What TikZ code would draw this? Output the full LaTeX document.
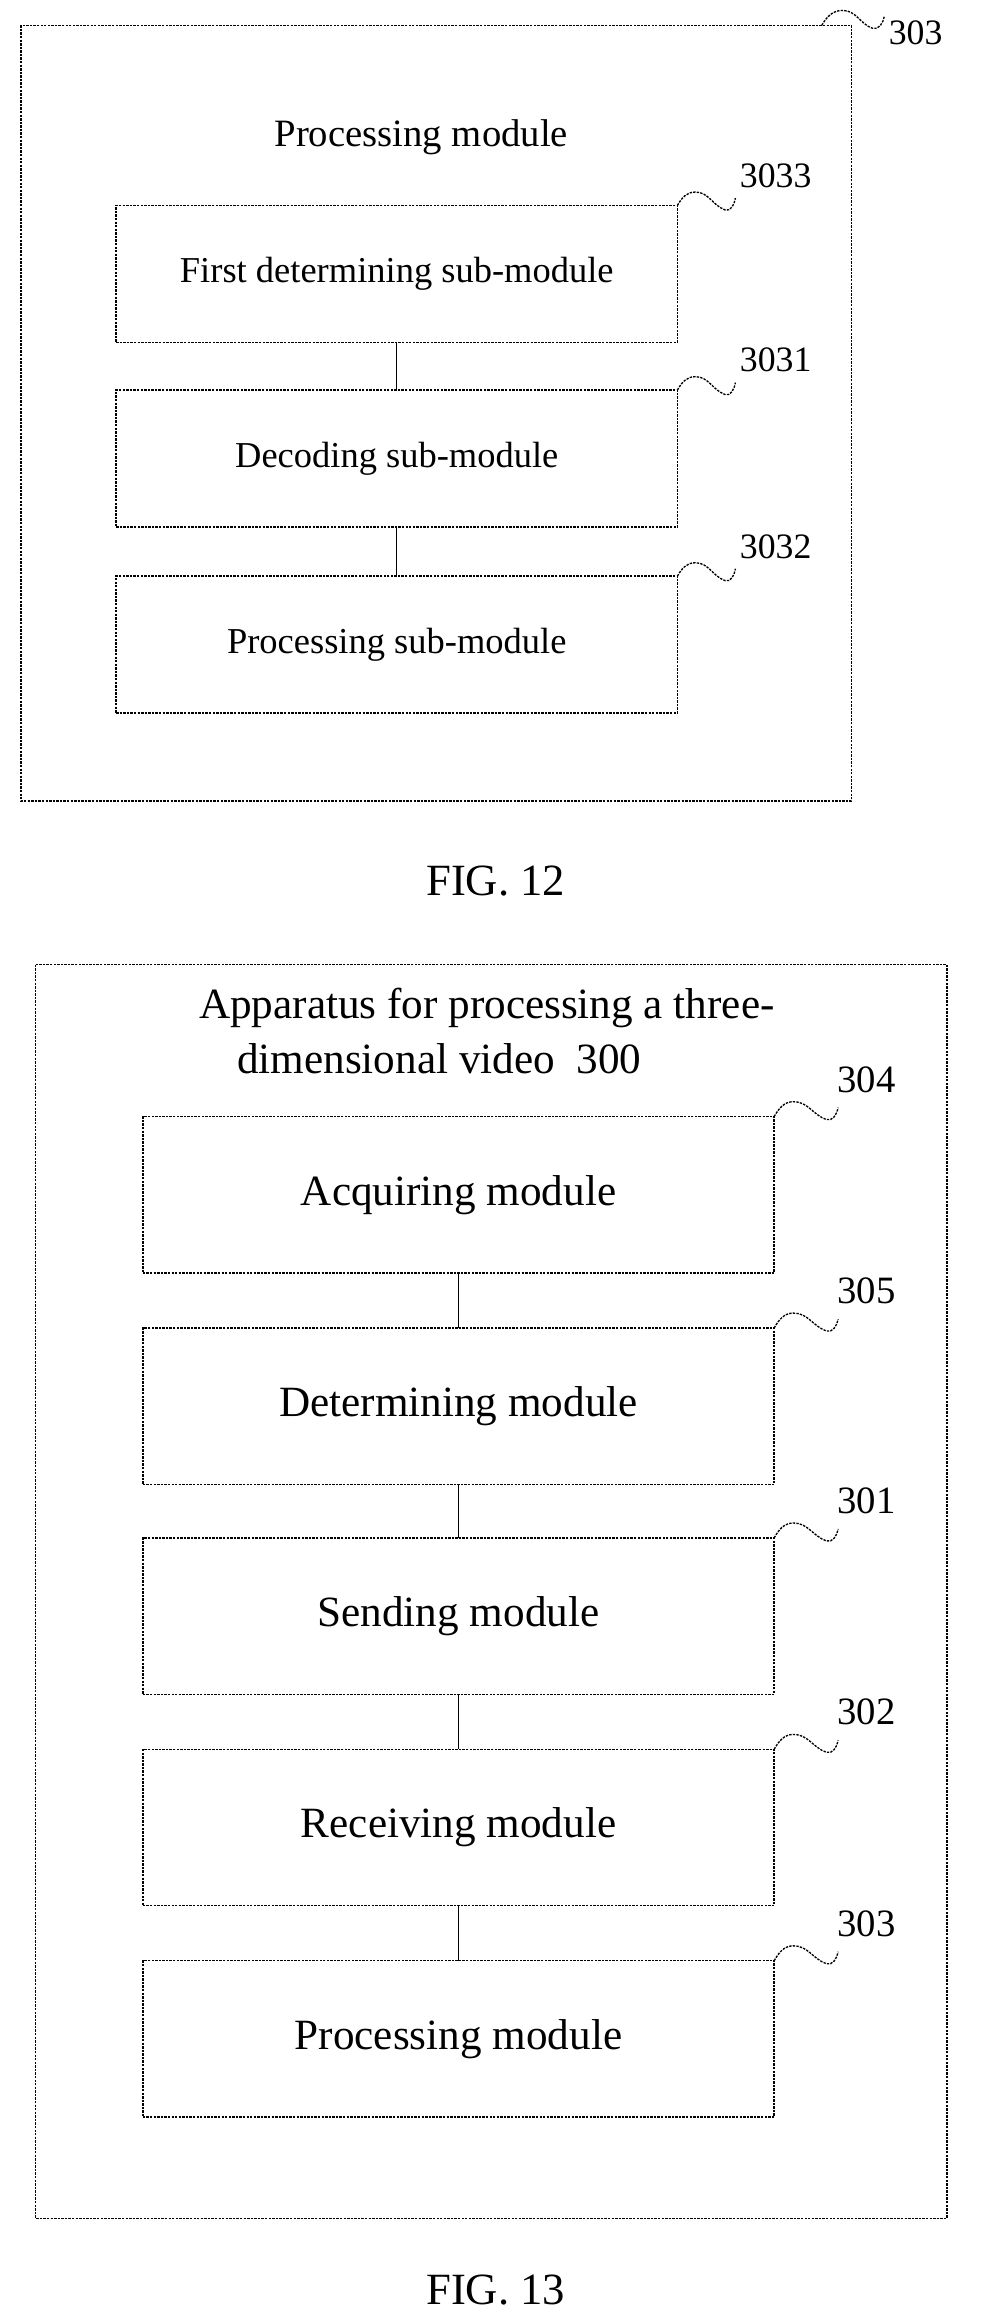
\documentclass[tikz,border=0pt]{standalone}
\usepackage{fontspec}
\setmainfont{Liberation Serif}
\begin{document}
\begin{tikzpicture}[x=1pt,y=-1pt,
  dbox/.style={draw, dash pattern=on 1.6pt off 0.8pt, line width=0.9pt, outer sep=0pt, inner sep=0pt},
  wave/.style={dash pattern=on 1.6pt off 0.8pt, line width=0.9pt},
  conn/.style={line width=0.6pt},
  t12/.style={font=\fontsize{24.5}{28}\selectfont},
  t13/.style={font=\fontsize{29}{33}\selectfont},
  lab/.style={font=\fontsize{24}{28}\selectfont}]
\useasboundingbox (0,0) rectangle (660,1557);
% FIG 12
\draw[dbox] (14,17) rectangle (572,538);
\coordinate (o12) at (552,17);
\draw[wave] (o12) to[out=60,in=180] ++(14,-10) to[out=0,in=160] ++(20,12) to[out=-20,in=-100] ++(8,-8);
\node[lab] (l303a) at (615,22) {303};
\node[font=\fontsize{26}{30}\selectfont] (pm) at (283,92) {Processing module};
\foreach \n/\y/\t/\l in {a/138/First determining sub-module/3033, b/262/Decoding sub-module/3031, c/387/Processing sub-module/3032}{
  \node[dbox, t12, minimum width=377pt, minimum height=92pt, anchor=north west] (s\n) at (78,\y) {\t};
  \draw[wave] (s\n.north east) to[out=60,in=180] ++(12,-9) to[out=0,in=160] ++(20,12) to[out=-20,in=-100] ++(7,-8);
  \node[lab] (ls\n) at (521,\y-20) {\l};
}
\draw[conn] (sa.south) -- (sb.north);
\draw[conn] (sb.south) -- (sc.north);
\node[font=\fontsize{30}{34}\selectfont] (f12) at (333,592) {FIG. 12};
% FIG 13
\draw[dbox] (24,648) rectangle (636,1490);
\node[t13] (ap1) at (327,677) {Apparatus for processing a three-};
\node[t13] (ap2) at (295,711) {dimensional video\ \ 300};
\foreach \n/\y/\t/\l in {a/750/Acquiring module/304, b/892/Determining module/305, c/1033/Sending module/301, d/1175/Receiving module/302, e/1317/Processing module/303}{
  \node[dbox, t13, minimum width=424pt, minimum height=105pt, anchor=north west] (m\n) at (96,\y) {\t};
  \draw[wave] (m\n.north east) to[out=60,in=180] ++(13,-10) to[out=0,in=160] ++(22,12) to[out=-20,in=-100] ++(8,-8);
  \node[font=\fontsize{26}{30}\selectfont] (lm\n) at (582,\y-25) {\l};
}
\draw[conn] (ma.south) -- (mb.north);
\draw[conn] (mb.south) -- (mc.north);
\draw[conn] (mc.south) -- (md.north);
\draw[conn] (md.south) -- (me.north);
\node[font=\fontsize{30}{34}\selectfont] (f13) at (333,1538) {FIG. 13};
\end{tikzpicture}
\end{document}
